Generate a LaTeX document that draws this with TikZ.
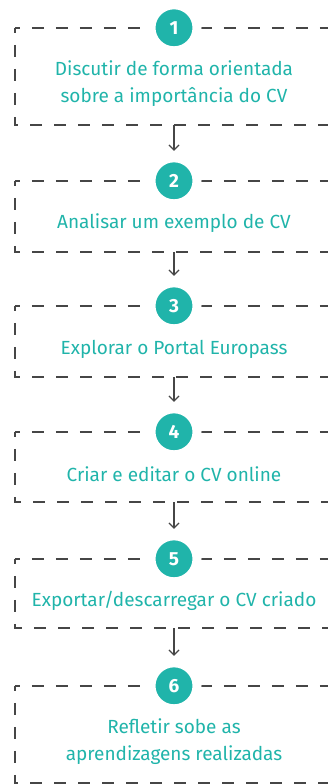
\documentclass[tikz,border=0pt]{standalone}
\usepackage{fontspec}
\setmainfont{Fira Sans}
\usetikzlibrary{arrows.meta}
\definecolor{teal1}{RGB}{32,180,170}
\definecolor{dgray}{RGB}{70,70,70}
\tikzset{
  stepbox/.style={minimum width=318pt, inner sep=0pt},
  dashline/.style={draw=dgray, line width=1.8pt, dash pattern=on 12pt off 12pt, dash phase=7pt},
  numcirc/.style={circle, fill=teal1, draw=white, line width=9pt, minimum size=46pt, inner sep=0pt, text=white, font=\fontsize{19}{19}\selectfont\bfseries},
  steptext/.style={text=teal1, align=center, font=\fontsize{19}{27}\selectfont},
  flow/.style={draw=dgray, line width=1.3pt, -{Straight Barb[length=5pt,width=10pt,line width=1.2pt]}}
}
\newcommand{\boxoutline}[1]{%
  \draw[dashline] (#1.north west) -- (#1.south west) -- (#1.south east);
  \draw[dashline] (#1.north west) -- (#1.north east);}
\begin{document}
\begin{tikzpicture}[x=1pt,y=-1pt]
\useasboundingbox (0,0) rectangle (328,784);
\clip (0,0) rectangle (328,784);
% boxes
\node[stepbox, minimum height=97pt] (b1) at (174,76.5) {};
\node[stepbox, minimum height=71pt] (b2) at (174,216.5) {};
\node[stepbox, minimum height=71pt] (b3) at (174,341.5) {};
\node[stepbox, minimum height=70pt] (b4) at (174,467) {};
\node[stepbox, minimum height=69pt] (b5) at (174,593.5) {};
\node[stepbox, minimum height=97pt] (b6) at (174,734.5) {};
\boxoutline{b1}\boxoutline{b2}\boxoutline{b3}\boxoutline{b4}\boxoutline{b5}\boxoutline{b6}
% texts
\node[steptext] (t1) at (174,84) {Discutir de forma orientada\\sobre a importância do CV};
\node[steptext] (t2) at (174,223) {Analisar um exemplo de CV};
\node[steptext] (t3) at (174,349) {Explorar o Portal Europass};
\node[steptext] (t4) at (174,474) {Criar e editar o CV online};
\node[steptext] (t5) at (174,601) {Exportar/descarregar o CV criado};
\node[steptext] (t6) at (174,742) {Refletir sobe as\\aprendizagens realizadas};
% circles
\node[numcirc] (c1) at (b1.north) {1};
\node[numcirc] (c2) at (b2.north) {2};
\node[numcirc] (c3) at (b3.north) {3};
\node[numcirc] (c4) at (b4.north) {4};
\node[numcirc] (c5) at (b5.north) {5};
\node[numcirc] (c6) at (b6.north) {6};
% arrows
\coordinate (a2) at ([yshift=30pt]b2.north);
\coordinate (a3) at ([yshift=30pt]b3.north);
\coordinate (a4) at ([yshift=30pt]b4.north);
\coordinate (a5) at ([yshift=30pt]b5.north);
\coordinate (a6) at ([yshift=30pt]b6.north);
\draw[flow] (b1.south) -- (a2);
\draw[flow] (b2.south) -- (a3);
\draw[flow] (b3.south) -- (a4);
\draw[flow] (b4.south) -- (a5);
\draw[flow] (b5.south) -- (a6);
\end{tikzpicture}
\end{document}
